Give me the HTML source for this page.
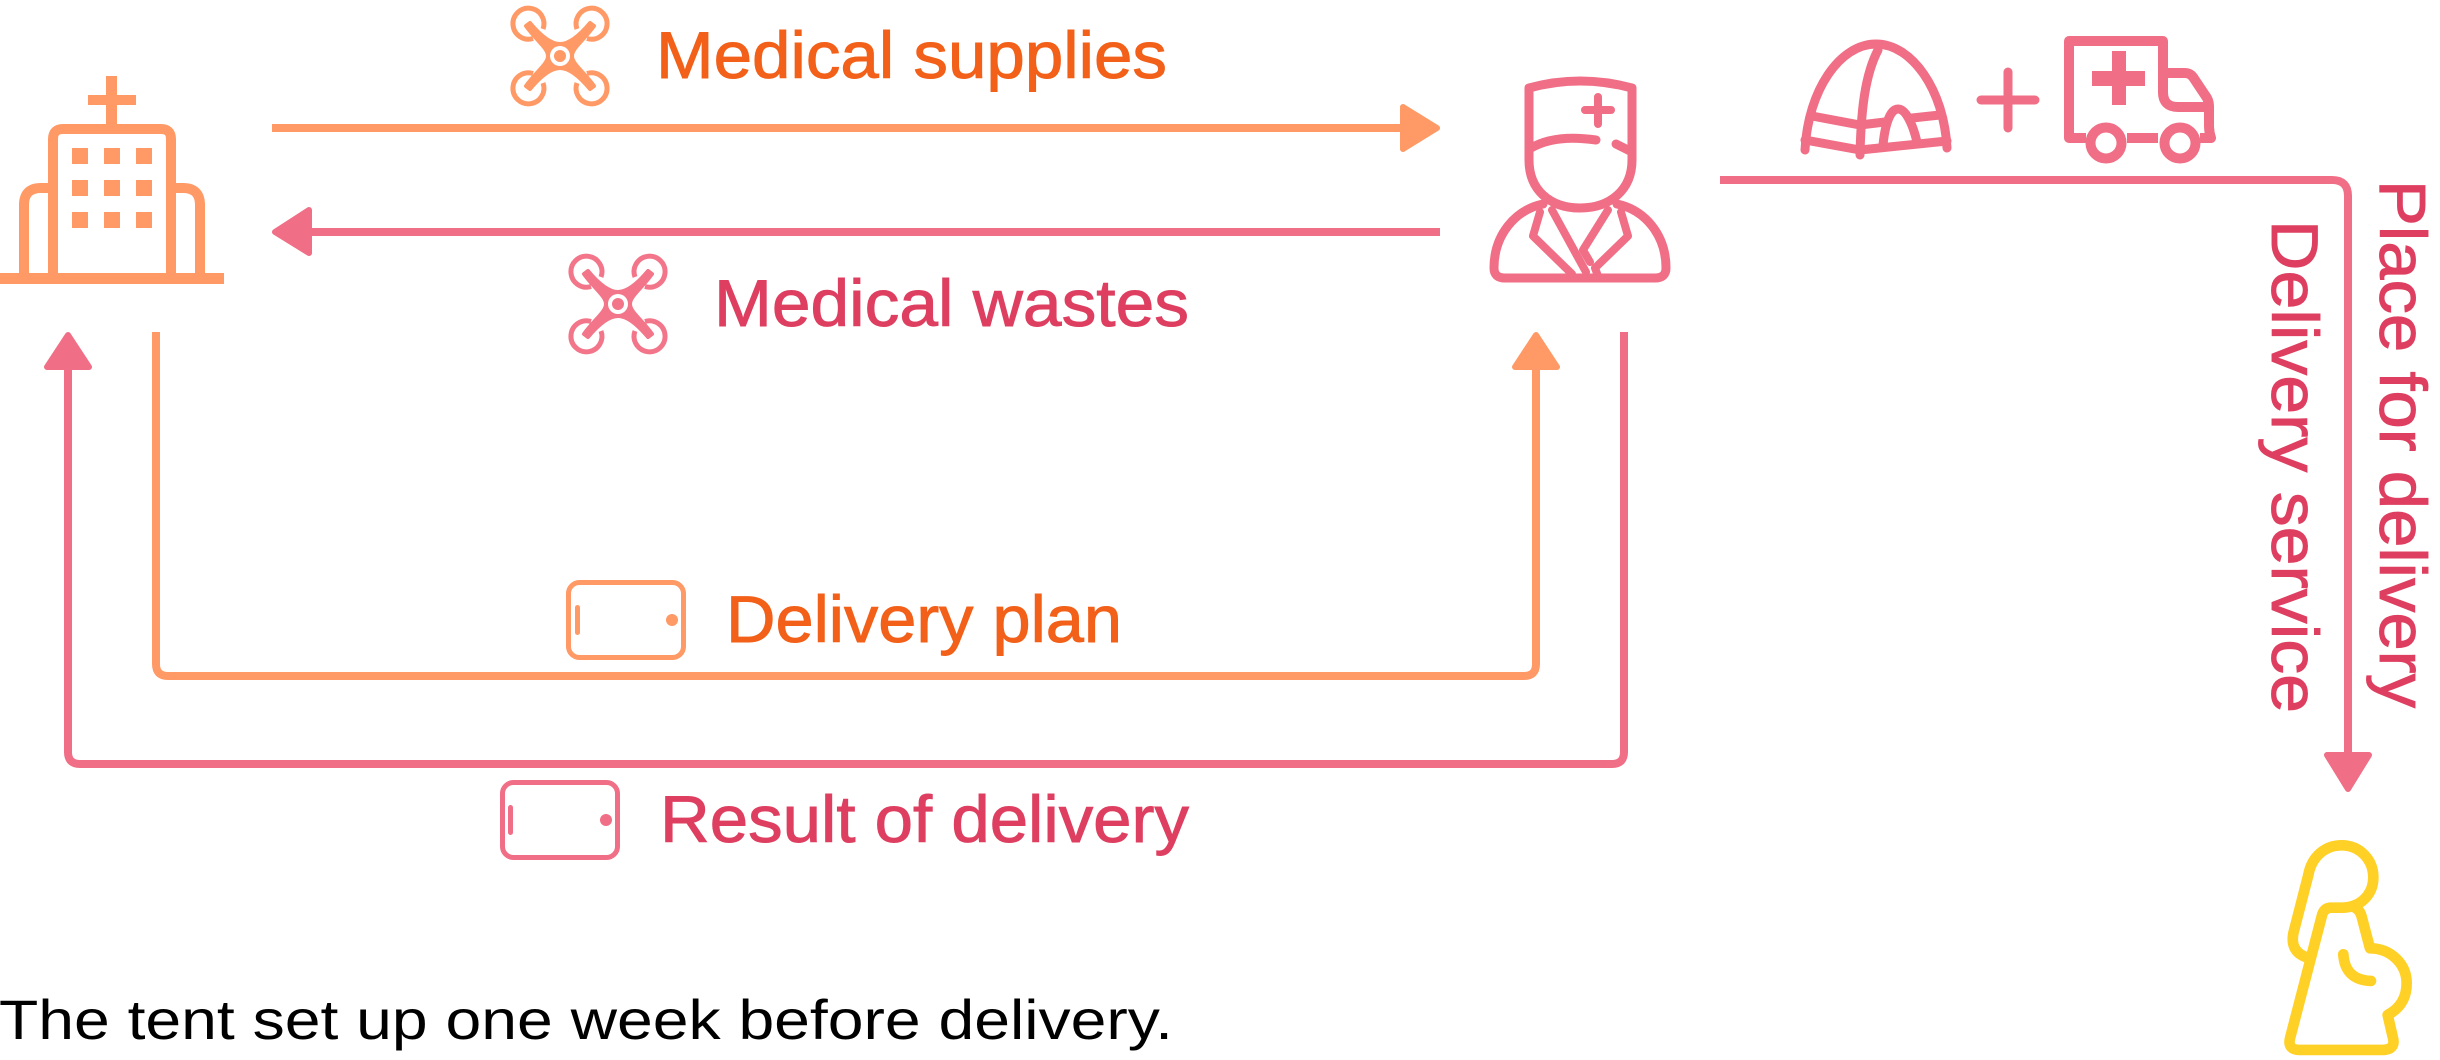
<!DOCTYPE html>
<html><head><meta charset="utf-8"><style>html,body{margin:0;padding:0;background:#fff}svg{display:block}text{font-family:"Liberation Sans",sans-serif}</style></head><body>
<svg xmlns="http://www.w3.org/2000/svg" width="2440" height="1060" viewBox="0 0 2440 1060">
<defs>
<g id="drone">
<g fill="none" stroke="currentColor" stroke-width="5">
<path d="M-17 -27 A15.5 15.5 0 1 0 -27 -17.500"/>
<path d="M17 -27 A15.5 15.500 0 1 1 27 -17.500"/>
<path d="M-17 27 A15.5 15.500 0 1 1 -27 17.500"/>
<path d="M17 27 A15.5 15.500 0 1 0 27 17.500"/>
</g>
<path fill="currentColor" stroke="currentColor" stroke-width="4" stroke-linejoin="round" d="M-34 -30 L-30 -33 C-20 -21 -10 -12 0 -12 C10 -12 20 -21 30 -33 L34 -30 C24 -16 12 -8 12 0 C12 8 24 16 34 30 L30 33 C20 21 10 12 0 12 C-10 12 -20 21 -30 33 L-34 30 C-24 16 -12 8 -12 0 C-12 -8 -24 -16 -34 -30Z"/>
<circle r="10" fill="#fff"/><circle r="6" fill="currentColor"/>
</g>
</defs>

<!-- hospital -->
<g fill="none" stroke="#FF9966" stroke-width="10">
<path d="M53 280V139Q53 129 63 129H161Q171 129 171 139V280"/>
<path d="M24 280V205Q24 188 41 188H53"/>
<path d="M171 188H183Q200 188 200 205V280"/>
</g>
<g fill="#FF9966">
<rect x="0" y="273" width="224" height="11"/>
<rect x="106" y="76" width="11" height="50"/><rect x="88" y="95" width="48" height="10"/>
<rect x="72" y="148" width="16" height="16"/><rect x="104" y="148" width="16" height="16"/><rect x="136" y="148" width="16" height="16"/>
<rect x="72" y="180" width="16" height="16"/><rect x="104" y="180" width="16" height="16"/><rect x="136" y="180" width="16" height="16"/>
<rect x="72" y="212" width="16" height="16"/><rect x="104" y="212" width="16" height="16"/><rect x="136" y="212" width="16" height="16"/>
</g>

<!-- horizontal arrows -->
<rect x="272" y="124" width="1132" height="8" fill="#FF9966"/>
<polygon points="1403,107 1437,128 1403,149" fill="#FF9966" stroke="#FF9966" stroke-width="6" stroke-linejoin="round"/>
<rect x="308" y="228" width="1132" height="8" fill="#F06E86"/>
<polygon points="309,210 275,232 309,253" fill="#F06E86" stroke="#F06E86" stroke-width="6" stroke-linejoin="round"/>

<!-- routes -->
<g fill="none" stroke-width="8">
<path d="M156 332V664Q156 676 168 676H1524Q1536 676 1536 664V365" stroke="#FF9966"/>
<path d="M1624 332V752Q1624 764 1612 764H80Q68 764 68 752V365" stroke="#F06E86"/>
<path d="M1720 180H2332Q2348 180 2348 196V756" stroke="#F06E86"/>
</g>
<polygon points="1536,335 1557,367 1515,367" fill="#FF9966" stroke="#FF9966" stroke-width="6" stroke-linejoin="round"/>
<polygon points="68,335 89,367 47,367" fill="#F06E86" stroke="#F06E86" stroke-width="6" stroke-linejoin="round"/>
<polygon points="2327,755 2369,755 2348,789" fill="#F06E86" stroke="#F06E86" stroke-width="6" stroke-linejoin="round"/>

<!-- drones -->
<use href="#drone" transform="translate(560 56)" color="#FF9966"/>
<use href="#drone" transform="translate(618 304)" color="#F2758A"/>

<!-- tablets -->
<g fill="none" stroke-width="5">
<rect x="568.500" y="582.500" width="115" height="75" rx="11" stroke="#FF9966"/>
<rect x="502.500" y="782.500" width="115" height="75" rx="11" stroke="#F06E86"/>
</g>
<rect x="575" y="605" width="5" height="30" rx="2.500" fill="#FF9966"/><circle cx="672" cy="620" r="6" fill="#FF9966"/>
<rect x="508" y="805" width="5" height="30" rx="2.500" fill="#F06E86"/><circle cx="606" cy="820" r="6" fill="#F06E86"/>

<!-- doctor -->
<g fill="none" stroke="#F06E86" stroke-width="9" stroke-linecap="round" stroke-linejoin="round">
<path d="M1529 88Q1580 74 1632 88V160C1632 190 1610 208 1580 208C1550 208 1529 190 1529 160Z"/>
<path d="M1531 148Q1555 134 1596 140"/>
<path d="M1616 144L1630 151"/>
<path d="M1598 97V124M1585 110H1611" stroke-width="8"/>
<path d="M1543 204C1515 210 1494 235 1494 268Q1494 278 1505 278H1655Q1666 278 1666 268C1666 235 1645 210 1617 204"/>
<path d="M1540 212L1533 236L1572 274" stroke-width="8"/>
<path d="M1621 212L1628 236L1595 268L1598 276" stroke-width="8"/>
<path d="M1552 210L1586 272" stroke-width="8"/>
<path d="M1608 210L1583 250L1590 262" stroke-width="8"/>
</g>

<!-- tent -->
<g fill="none" stroke="#F06E86" stroke-width="9" stroke-linecap="round" stroke-linejoin="round">
<path d="M1805 150C1808 90 1840 44 1876 44C1912 44 1944 90 1947 148"/>
<path d="M1878 50C1865 75 1861 110 1860 155"/>
<path d="M1805 140L1860 150L1947 141"/>
<path d="M1812 116L1860 125L1885 122"/>
<path d="M1912 118L1940 115"/>
<path d="M1883 145C1885 125 1890 109 1898 109C1906 109 1913 125 1917 142"/>
<path d="M1981 100H2035M2008 72V128"/>
</g>

<!-- ambulance -->
<g fill="none" stroke="#F06E86" stroke-width="10" stroke-linejoin="round">
<path d="M2086 138H2069V41H2163V92Q2163 107 2178 107H2209"/>
<path d="M2163 73H2185Q2190 73 2193 77L2205 95Q2209 100 2209 106V125Q2209 132 2211 138H2200"/>
<path d="M2127 138H2158"/>
<circle cx="2106" cy="143" r="15.500"/>
<circle cx="2180" cy="143" r="15.500"/>
</g>
<rect x="2112" y="51" width="14" height="54" fill="#F06E86"/><rect x="2092" y="71" width="53" height="15" fill="#F06E86"/>

<!-- woman -->
<g transform="translate(2200 720) scale(0.3333)" fill="none" stroke="#FFD026" stroke-width="32" stroke-linecap="round" stroke-linejoin="round">
<path d="M325 465C335 410 375 376 425 376C480 376 520 420 520 472C520 525 480 563 425 563H390Q370 565 365 590L270 955Q262 990 300 990H545Q590 990 578 950L563 885Q620 855 620 790C620 730 570 685 510 685L485 590Q480 570 465 563"/>
<path d="M325 465L280 640Q270 695 320 712"/>
<path d="M430 703Q435 780 513 783"/>
</g>

<!-- labels -->
<g font-size="66" stroke-width="0.9">
<text x="656" y="78" textLength="511" lengthAdjust="spacingAndGlyphs" fill="#F26019" stroke="#F26019">Medical supplies</text>
<text x="714" y="326" textLength="475" lengthAdjust="spacingAndGlyphs" fill="#DE3F60" stroke="#DE3F60">Medical wastes</text>
<text x="726" y="642" textLength="396" lengthAdjust="spacingAndGlyphs" fill="#F26019" stroke="#F26019">Delivery plan</text>
<text x="660" y="842" textLength="529" lengthAdjust="spacingAndGlyphs" fill="#DE3F60" stroke="#DE3F60">Result of delivery</text>
<text transform="translate(2380 180) rotate(90)" textLength="528" lengthAdjust="spacingAndGlyphs" fill="#DE3F60" stroke="#DE3F60">Place for delivery</text>
<text transform="translate(2272 220) rotate(90)" textLength="493" lengthAdjust="spacingAndGlyphs" fill="#DE3F60" stroke="#DE3F60">Delivery service</text>
</g>
<text x="-1" y="1039" font-size="56" textLength="1174" lengthAdjust="spacingAndGlyphs" fill="#000">The tent set up one week before delivery.</text>
</svg>
</body></html>
